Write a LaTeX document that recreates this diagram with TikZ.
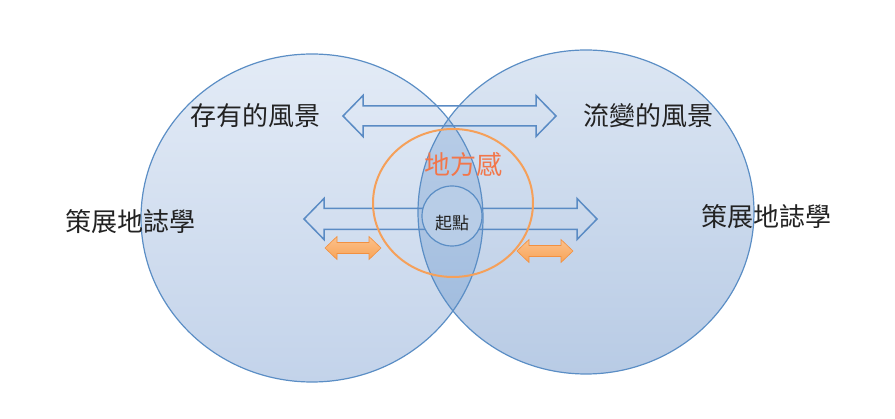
\documentclass[tikz,border=0pt]{standalone}
\usepackage{fontspec}
\newfontfamily\cjk{Noto Sans CJK TC}
\usetikzlibrary{calc}
\definecolor{ringblue}{HTML}{5B8EC5}
\definecolor{arrowblue}{HTML}{5A8BC4}
\definecolor{leftTop}{HTML}{E3EBF6}
\definecolor{leftBot}{HTML}{C3D3EA}
\definecolor{rightTop}{HTML}{DCE6F3}
\definecolor{rightBot}{HTML}{B8CBE5}
\definecolor{lensTop}{HTML}{BFD2EA}
\definecolor{lensBot}{HTML}{9BB8DC}
\definecolor{placeorange}{HTML}{F5A05A}
\definecolor{placetext}{HTML}{F2764A}
\definecolor{tagorange}{HTML}{F9A65A}
\definecolor{tagedge}{HTML}{F29040}
\definecolor{inktext}{HTML}{222222}
% block double arrow: [style]{left x}{right x}{y}{shaft half}{head half}{head length}
\newcommand{\dblarr}[7][]{%
  \draw[#1] (#2,#4) -- (#2+#7,#4-#6) -- (#2+#7,#4-#5) -- (#3-#7,#4-#5) -- (#3-#7,#4-#6)
    -- (#3,#4) -- (#3-#7,#4+#6) -- (#3-#7,#4+#5) -- (#2+#7,#4+#5) -- (#2+#7,#4+#6) -- cycle;}

\begin{document}
\begin{tikzpicture}[x=1pt,y=-1pt,
    ring/.style={draw=ringblue,line width=1.2pt},
    leftfill/.style={top color=leftTop,bottom color=leftBot},
    rightfill/.style={top color=rightTop,bottom color=rightBot},
    lensfill/.style={top color=lensTop,bottom color=lensBot},
    hollowarrow/.style={draw=arrowblue,line width=1.5pt,line join=miter},
    tagarrow/.style={draw=tagedge,line width=0.6pt,top color=tagorange!70!white,bottom color=tagorange!90!tagedge},
    label/.style={font=\cjk\fontsize{26}{30}\selectfont,text=inktext,inner sep=0pt}]
  \useasboundingbox (0,0) rectangle (895,419);

  % the two fields
  \shade[leftfill] (312,218) ellipse [x radius=171,y radius=164];
  \shade[rightfill] (586,212) ellipse [x radius=168,y radius=162];
  \begin{scope}
    \clip (312,218) ellipse [x radius=171,y radius=164];
    \shade[lensfill] (586,212) ellipse [x radius=168,y radius=162];
  \end{scope}
  \draw[ring] (312,218) ellipse [x radius=171,y radius=164];
  \draw[ring] (586,212) ellipse [x radius=168,y radius=162];

  % arrows
  \dblarr[hollowarrow]{343}{556}{116}{10}{20.5}{20}
  \dblarr[hollowarrow]{304}{597}{219}{10.5}{20.5}{20}
  \dblarr[tagarrow]{325}{381}{248}{5.5}{11.5}{12}
  \dblarr[tagarrow]{517}{573}{251}{5.5}{11.5}{12}

  % place and starting point
  \draw[draw=placeorange,line width=2pt] (453,203) ellipse [x radius=80,y radius=74];
  \node[circle,ring,fill=lensTop!80!lensBot,minimum size=60pt,inner sep=0pt] (start) at (452,216) {};

  \node[label] (being)  at (255,116) {存有的風景};
  \node[label] (flux)   at (648,116) {流變的風景};
  \node[label] (geoL)   at (130,222) {策展地誌學};
  \node[label] (geoR)   at (766,217) {策展地誌學};
  \node[label,text=placetext] (place) at (463,165) {地方感};
  \node[label,font=\cjk\fontsize{17}{20}\selectfont] (startlabel) at (452,223) {起點};
\end{tikzpicture}
\end{document}
